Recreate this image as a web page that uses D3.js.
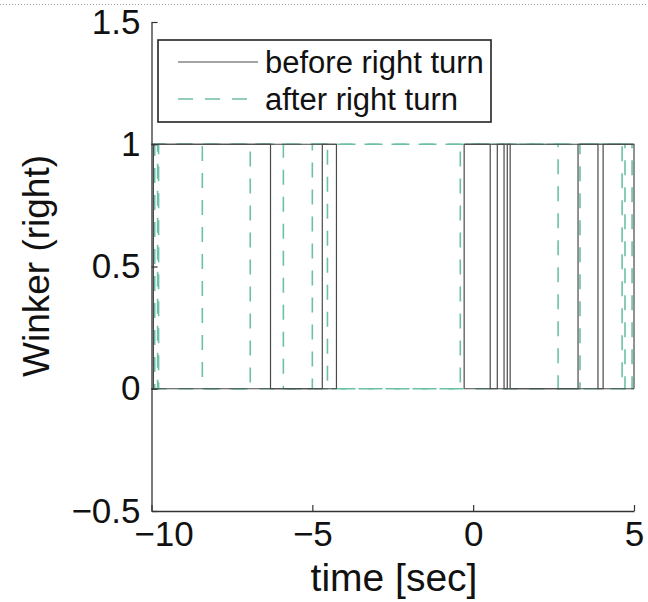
<!DOCTYPE html>
<html><head><meta charset="utf-8">
<script src="https://cdn.jsdelivr.net/npm/d3@7"></script>
<style>body{margin:0;background:#fff}svg{display:block}text{font-family:"Liberation Sans",Arial,sans-serif;fill:#111}</style>
</head><body>
<script>
// ---- data ----
const xTicks = [-10, -5, 0, 5];
const yTicks = [-0.5, 0, 0.5, 1, 1.5];
const xDomain = [-10, 5];
const yDomain = [-0.5, 1.5];
const seriesNames = ["before right turn", "after right turn"];
// each trace: start time, end time, initial value (0/1), times where it toggles
const beforeTraces = [
  {start: -10, end: -4.25, init: 0, switches: [-9.94, -6.30, -4.69]},
  {start: -10, end: -4.25, init: 1, switches: [-4.25]},
  {start: -10, end: -4.25, init: 0, switches: []},
  {start: -0.28, end: 5, init: 0, switches: [-0.28, 0.53, 0.75, 0.96, 1.06, 1.15, 3.26, 3.88, 4.04, 5.0]},
  {start: -0.28, end: 5, init: 1, switches: []},
  {start: -0.28, end: 5, init: 0, switches: []}
];
const afterTraces = [
  {start: -10, end: 5, init: 0, switches: [-9.81, -8.42, -6.93, -5.90, -5.00, -4.53, -0.40, 2.64, 3.32, 4.63, 4.72, 4.94]},
  {start: -10, end: 5, init: 1, switches: [-9.90, -9.78]},
  {start: -10, end: 5, init: 1, switches: []},
  {start: -10, end: 5, init: 0, switches: []}
];

// ---- drawing ----
const W = 648, H = 602;
const svg = d3.select("body").append("svg").attr("width", W).attr("height", H);
const x = d3.scaleLinear().domain(xDomain).range([151.5, 634]);
const y = d3.scaleLinear().domain(yDomain).range([511, 22]);

// page dotted rule at top
svg.append("line").attr("x1", 0).attr("x2", W).attr("y1", 4.5).attr("y2", 4.5)
  .attr("stroke", "#999").attr("stroke-width", 1).attr("stroke-dasharray", "1,2");

function tracePoints(t) {
  const pts = [[t.start, t.init]];
  let v = t.init;
  t.switches.forEach(s => { pts.push([s, v]); v = 1 - v; pts.push([s, v]); });
  pts.push([t.end, v]);
  return pts;
}
const line = d3.line().x(d => x(d[0])).y(d => y(d[1]));

const colors = {before: "#4a4a4a", after: "#6dbfa7"};
const dash = "15,12";

const plot = svg.append("g");
plot.selectAll("path.after").data(afterTraces).join("path").attr("class", "after")
  .attr("d", d => line(tracePoints(d))).attr("fill", "none")
  .attr("stroke", colors.after).attr("stroke-width", 1.6).attr("stroke-dasharray", dash);
plot.selectAll("path.before").data(beforeTraces).join("path").attr("class", "before")
  .attr("d", d => line(tracePoints(d))).attr("fill", "none")
  .attr("stroke", colors.before).attr("stroke-width", 1.2);

// axes (MATLAB style, inward ticks, no box)
const fmt = d => (d < 0 ? "\u2212" : "") + Math.abs(d);
const yAxis = d3.axisLeft(y).tickValues(yTicks).tickSizeInner(-6).tickSizeOuter(0)
  .tickPadding(11).tickFormat(fmt);
const gy = svg.append("g").attr("transform", `translate(${x(-10)},0)`).call(yAxis);
const xAxis = d3.axisBottom(x).tickValues(xTicks).tickSizeInner(-6).tickSizeOuter(0)
  .tickPadding(10).tickFormat(fmt);
const gx = svg.append("g").attr("transform", `translate(0,${y(-0.5)})`).call(xAxis);
[gx, gy].forEach(g => {
  g.select(".domain").attr("stroke", "#333").attr("stroke-width", 1.3);
  g.selectAll(".tick line").attr("stroke", "#333").attr("stroke-width", 1.2);
  g.selectAll(".tick text").attr("font-size", 35).attr("fill", "#111")
    .style("font-family", '"Liberation Sans",Arial,sans-serif');
});
gx.selectAll(".tick text").filter(d => d === -10).attr("dx", 12);

// axis labels
svg.append("text").attr("x", 394).attr("y", 591).attr("text-anchor", "middle")
  .attr("font-size", 39).text("time [sec]");
svg.append("text").attr("transform", "translate(49,266) rotate(-90)").attr("text-anchor", "middle")
  .attr("font-size", 37).text("Winker (right)");

// legend
const lg = svg.append("g");
lg.append("rect").attr("x", 158).attr("y", 40).attr("width", 333).attr("height", 82)
  .attr("fill", "#fff").attr("stroke", "#222").attr("stroke-width", 1.6);
const legendItems = [
  {name: seriesNames[0], color: colors.before, dash: null, w: 1.2},
  {name: seriesNames[1], color: colors.after, dash: dash, w: 1.6}
];
legendItems.forEach((it, i) => {
  const yy = 62 + i * 37;
  lg.append("line").attr("x1", 178).attr("x2", 258).attr("y1", yy).attr("y2", yy)
    .attr("stroke", it.color).attr("stroke-width", it.w).attr("stroke-dasharray", it.dash);
  lg.append("text").attr("x", 265).attr("y", yy + 11).attr("font-size", 31).text(it.name);
});
</script>
</body></html>
